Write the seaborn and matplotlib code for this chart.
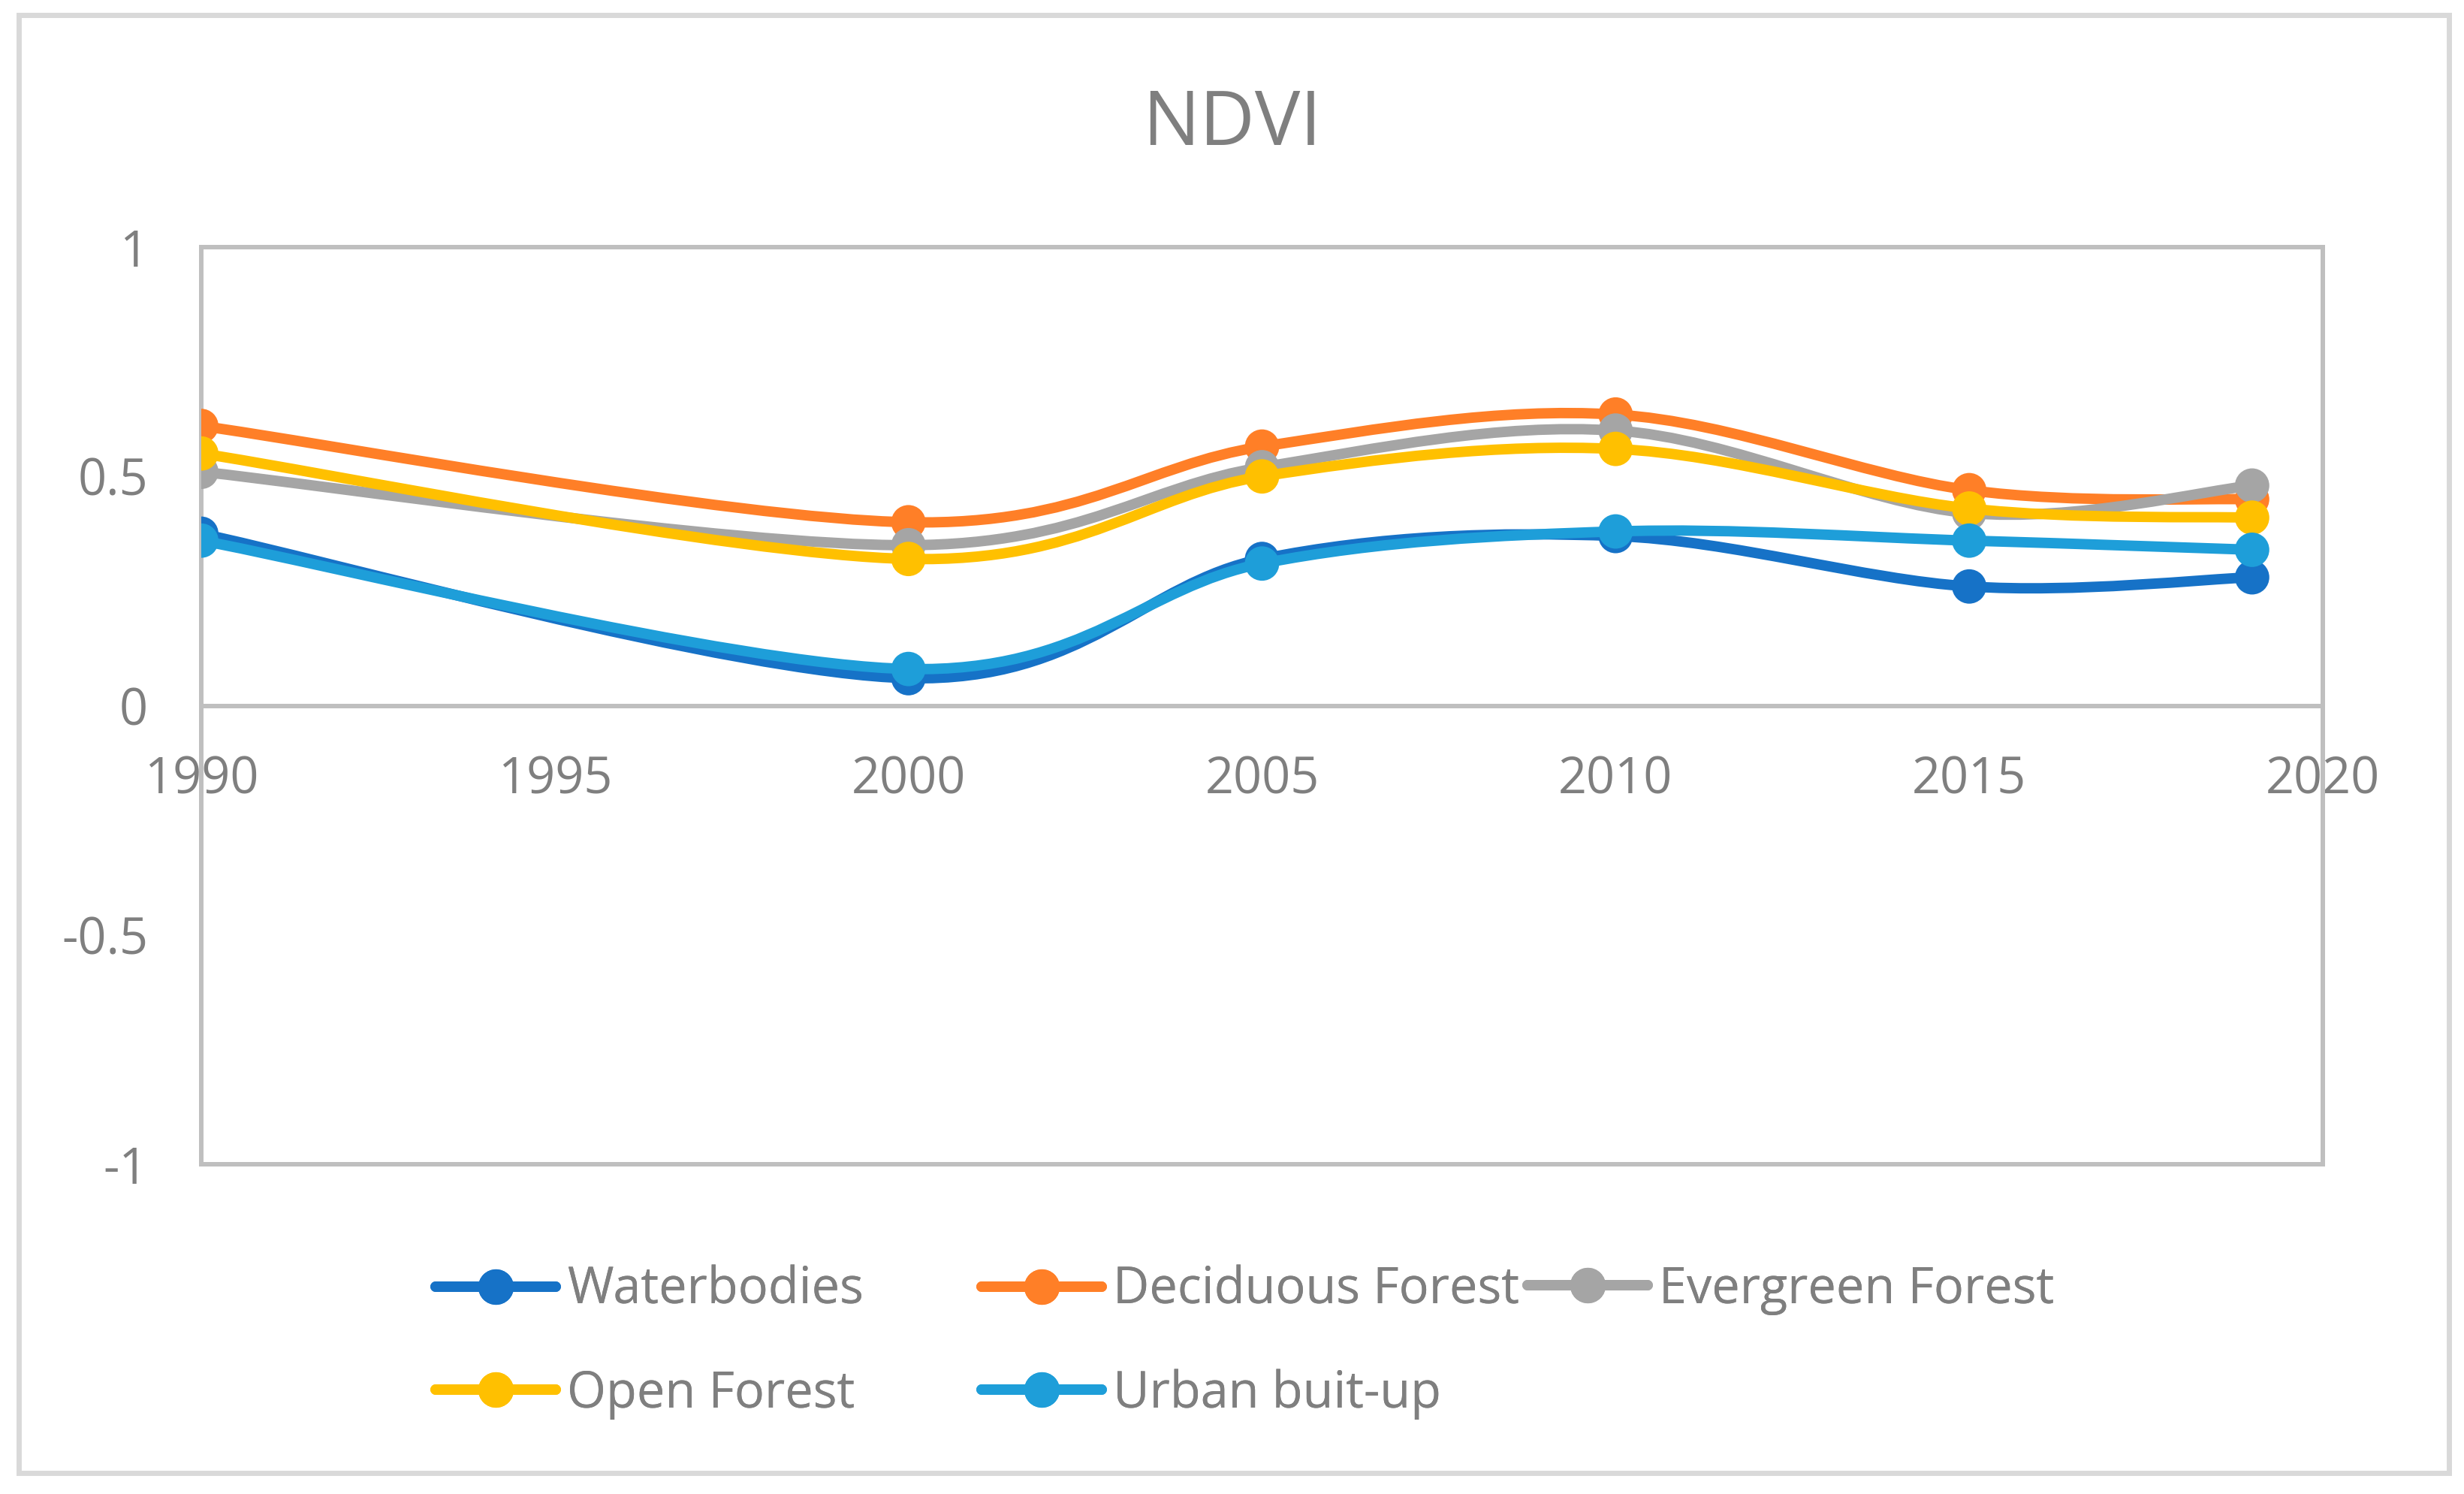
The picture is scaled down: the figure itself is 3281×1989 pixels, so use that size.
import numpy as np
import pandas as pd
import matplotlib
matplotlib.use("Agg")
import matplotlib.pyplot as plt
import seaborn as sns
from matplotlib.path import Path
from matplotlib.patches import PathPatch, Rectangle
from matplotlib.lines import Line2D

# ── data ─────────────────────────────────────────────────────────────────
years = [1990, 2000, 2005, 2010, 2015, 2019]
waterbodies = [0.375, 0.06, 0.32, 0.37, 0.26, 0.28]
deciduous = [0.61, 0.40, 0.565, 0.635, 0.47, 0.45]
evergreen = [0.51, 0.35, 0.52, 0.60, 0.42, 0.48]
open_forest = [0.55, 0.32, 0.50, 0.56, 0.43, 0.41]
urban = [0.36, 0.08, 0.31, 0.38, 0.36, 0.34]

names = ["Waterbodies", "Deciduous Forest", "Evergreen Forest", "Open Forest", "Urban buit-up"]
values = [waterbodies, deciduous, evergreen, open_forest, urban]
colors = ["#1672C7", "#FF7F27", "#A5A5A5", "#FFC000", "#1E9ED9"]

x_ticks = [1990, 1995, 2000, 2005, 2010, 2015, 2020]
y_ticks = [-1, -0.5, 0, 0.5, 1]
y_labels = ["-1", "-0.5", "0", "0.5", "1"]

df = pd.DataFrame({"year": years, **dict(zip(names, values))})

# ── style ────────────────────────────────────────────────────────────────
sns.set_theme(style="white")
plt.rcParams["font.family"] = ["Open Sans", "DejaVu Sans"]
TXT = "#7F7F7F"
FRAME = "#BFBFBF"

fig = plt.figure(figsize=(32.81, 19.89), dpi=100)
ax = fig.add_axes([268 / 3281, 1 - 1550 / 1989, (3093 - 268) / 3281, (1550 - 329) / 1989])


def smooth_path(xs, ys):
    # Catmull-Rom style bezier, like Excel's "smoothed line"
    pts = np.column_stack([xs, ys]).astype(float)
    n = len(pts)
    verts = [pts[0]]
    codes = [Path.MOVETO]
    for i in range(n - 1):
        p0 = pts[i - 1] if i > 0 else pts[i]
        p1, p2 = pts[i], pts[i + 1]
        p3 = pts[i + 2] if i + 2 < n else pts[i + 1]
        verts += [p1 + (p2 - p0) / 6, p2 - (p3 - p1) / 6, p2]
        codes += [Path.CURVE4] * 3
    return Path(verts, codes)


handles = []
for k, (name, col) in enumerate(zip(names, colors)):
    patch = PathPatch(smooth_path(df["year"], df[name]), facecolor="none", edgecolor=col,
                      lw=10, capstyle="round", joinstyle="round", zorder=3 + 2 * k)
    ax.add_patch(patch)
    sns.scatterplot(data=df, x="year", y=name, ax=ax, color=col, s=33 ** 2,
                    edgecolor="none", linewidth=0, zorder=4 + 2 * k, legend=False)
    handles.append(Line2D([0], [0], color=col, lw=10, marker="o", ms=33,
                          solid_capstyle="round"))

ax.set_xlim(1990, 2020)
ax.set_ylim(-1, 1)
ax.set_xticks(x_ticks)
ax.set_yticks(y_ticks)
ax.set_yticklabels(y_labels)
ax.set_xlabel("")
ax.set_ylabel("")
ax.tick_params(axis="both", length=0, labelsize=48, labelcolor=TXT)
ax.tick_params(axis="x", pad=47)
ax.tick_params(axis="y", pad=51)

for s in ax.spines.values():
    s.set_color(FRAME)
    s.set_linewidth(4.3)
    s.set_visible(True)
ax.spines["bottom"].set_position(("data", 0))
ax.axhline(-1, color=FRAME, lw=4.3, clip_on=False, zorder=2)

# title
fig.text(0.5, 1 - 193 / 1989, "NDVI", ha="center", va="baseline", fontsize=73, color=TXT)

# legend: three columns, Excel-like fixed spacing
col_x = [580, 1307, 2034]
groups = [[0, 3], [1, 4], [2]]
for cx, grp in zip(col_x, groups):
    cy = 1787 if len(grp) == 2 else 1717
    leg = fig.legend([handles[i] for i in grp], [names[i] for i in grp],
                     loc="center left", bbox_to_anchor=(cx / 3281, 1 - cy / 1989),
                     frameon=False, fontsize=48, labelcolor=TXT, handlelength=2.4,
                     handletextpad=0.22, labelspacing=1.05, borderpad=0, borderaxespad=0)
    fig.add_artist(leg)

# outer chart border
fig.patches.append(Rectangle((25 / 3281, 1 - 1961 / 1989), (3261 - 25) / 3281, (1961 - 20) / 1989,
                             transform=fig.transFigure, fill=False, edgecolor="#D9D9D9", lw=5))

fig.savefig("out.png", dpi=100, facecolor="white")
